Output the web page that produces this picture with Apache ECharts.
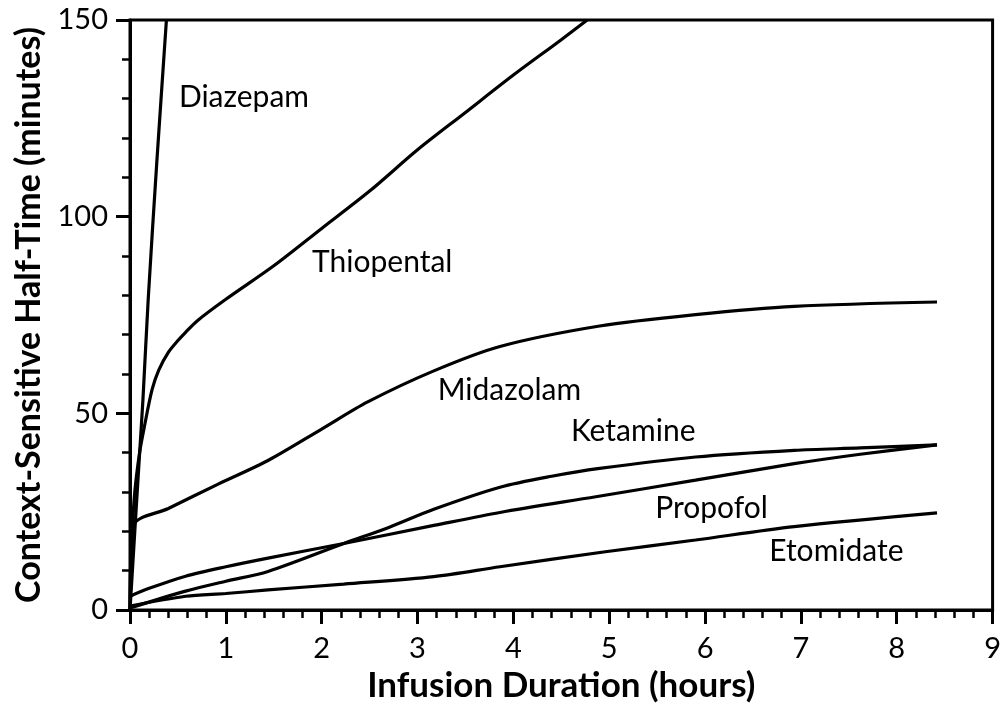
<!DOCTYPE html>
<html>
<head>
<meta charset="utf-8">
<script src="https://cdn.jsdelivr.net/npm/echarts@6/dist/echarts.min.js"></script>
<style>
html,body{margin:0;padding:0;background:#fff;}
#chart{width:1004px;height:708px;}
</style>
</head>
<body>
<div id="chart"></div>
<script>
// Data: [infusion duration (hours), context-sensitive half-time (minutes)]
const diazepam = [[0,0],[0.03,12],[0.06,24],[0.093,37],[0.135,53.5],[0.19,79],[0.28,114],[0.38,150]];
const thiopental = [[0,0],[0.02,18],[0.05,30],[0.1,40],[0.145,46],[0.23,56],[0.3,61],[0.4,65.5],[0.5,68.5],[0.58,70.6],[0.7,73.5],[1.0,79],[1.5,87.5],[2.0,97],[2.5,106.5],[3.0,117],[3.5,126.5],[4.0,136],[4.5,145],[4.77,150]];
const midazolam = [[0,0],[0.04,21.5],[0.4,25.8],[0.92,32],[1.44,38],[2.0,46],[2.48,52.9],[3.17,60.8],[3.86,67],[4.9,72.2],[5.9,75.1],[6.93,77.2],[8.42,78.3]];
const ketamine = [[0,0.5],[0.58,4.8],[1.0,7.3],[1.44,9.8],[2.23,16.9],[2.7,21],[3.17,25.6],[3.86,31.2],[4.4,34],[4.9,36],[5.9,38.9],[6.93,40.6],[7.62,41.2],[8.42,42]];
const propofol = [[0,3.5],[0.2,5.5],[0.58,8.6],[1.0,11],[1.44,13.2],[2.23,16.9],[3.17,21.5],[3.86,24.8],[4.86,28.8],[5.9,33],[6.93,37.2],[7.62,39.6],[8.42,42]];
const etomidate = [[0,1],[0.58,3.5],[1.0,4.2],[1.44,5.1],[2.23,6.6],[3.17,8.5],[3.86,11],[4.96,14.8],[5.9,17.8],[6.93,21.2],[8.42,24.7]];
const drugNames = ['Diazepam','Thiopental','Midazolam','Ketamine','Propofol','Etomidate'];
// label anchors in data units [hours, minutes]
const labelAnchors = [[0.51,130.3],[1.90,88.5],[3.21,55.9],[4.60,45.3],[5.48,25.8],[6.67,14.9]];
const xTicks = [0,1,2,3,4,5,6,7,8,9];
const yTicks = [0,50,100,150];

const chart = echarts.init(document.getElementById('chart'), null, {renderer:'canvas'});
const font = 'Lato, "Open Sans", sans-serif';
const lineSeries = [diazepam, thiopental, midazolam, ketamine, propofol, etomidate].map((d,i)=>({
  name: drugNames[i], type:'line', data:d, showSymbol:false, smooth:0.3,
  lineStyle:{color:'#000', width:3.2}, clip:true, silent:true
}));
const labelSeries = {
  type:'scatter', symbolSize:0, silent:true,
  itemStyle:{opacity:1, color:'#000'},
  data: labelAnchors.map((p,i)=>({value:[p[0],p[1]], name:drugNames[i]})),
  label:{show:true, position:'right', distance:0, formatter:p=>p.name, color:'#000', opacity:1, fontFamily:font, fontSize:30}
};
chart.setOption({
  animation:false,
  backgroundColor:'#fff',
  grid:{left:130, right:7, top:20, bottom:96, show:true, borderColor:'#000', borderWidth:3, backgroundColor:'transparent'},
  xAxis:{
    type:'value', min:xTicks[0], max:xTicks[xTicks.length-1], interval:1,
    name:'Infusion Duration (hours)', nameLocation:'middle', nameGap:58,
    nameTextStyle:{fontFamily:font, fontWeight:'bold', fontSize:35, color:'#000'},
    axisLine:{show:true, onZero:false, lineStyle:{color:'#000', width:3}},
    axisTick:{show:true, inside:false, length:14, lineStyle:{color:'#000', width:3}},
    minorTick:{show:true, splitNumber:5, length:8, lineStyle:{color:'#000', width:2.5}},
    axisLabel:{fontFamily:font, fontSize:29, color:'#000', margin:24},
    splitLine:{show:false}
  },
  yAxis:{
    type:'value', min:yTicks[0], max:yTicks[yTicks.length-1], interval:50,
    name:'Context-Sensitive Half-Time (minutes)', nameLocation:'middle', nameGap:84,
    nameTextStyle:{fontFamily:font, fontWeight:'bold', fontSize:34, color:'#000'},
    axisLine:{show:true, onZero:false, lineStyle:{color:'#000', width:3}},
    axisTick:{show:true, inside:false, length:14, lineStyle:{color:'#000', width:3}},
    minorTick:{show:true, splitNumber:5, length:8, lineStyle:{color:'#000', width:2.5}},
    axisLabel:{fontFamily:font, fontSize:29, color:'#000', margin:22},
    splitLine:{show:false}
  },
  series: lineSeries.concat([labelSeries])
});
</script>
</body>
</html>
